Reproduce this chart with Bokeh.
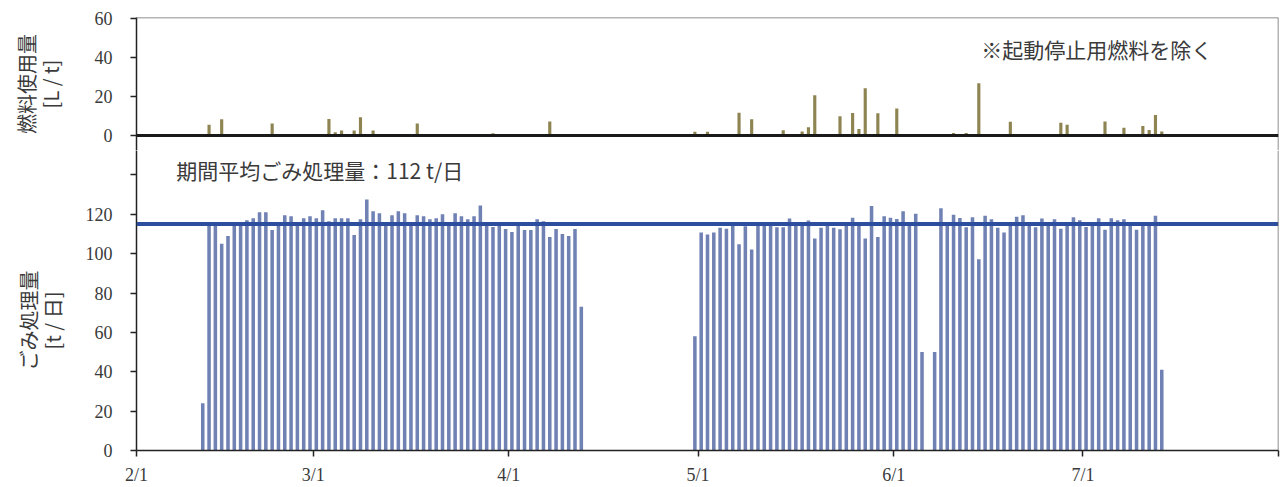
import pandas as pd
from bokeh.plotting import figure
from bokeh.layouts import column
from bokeh.models import ColumnDataSource, FixedTicker, Span, Label, Range1d
from bokeh.embed import file_html
from bokeh.resources import INLINE

# ---------------- data ----------------
YEAR = 2023
axis_start = "2/1"
axis_end = "8/1"
month_ticks = ["2/1", "3/1", "4/1", "5/1", "6/1", "7/1", "8/1"]
month_tick_labels = ["2/1", "3/1", "4/1", "5/1", "6/1", "7/1", ""]

# daily waste processed [t/day], consecutive days from the start date (None = no data)
waste_seg1_start = "2/11"
waste_seg1 = [24, 115, 115, 105, 109, 114, 116, 117, 118, 121, 121, 112, 114, 119.5, 119,
              115.5, 118, 119, 118, 122, 116.5, 118, 118, 118, 109.5, 117.5, 127.5, 121.5,
              120.5, 115, 119.5, 121.5, 120.5, 115, 119.5, 119, 117.5, 118, 120, 114, 120.5,
              119, 117.5, 119, 124.5, 114, 113.5, 115, 112.5, 111, 115, 112, 112, 117.5,
              116.5, 108.5, 112.5, 110, 109, 112.5, 73]
waste_seg2_start = "4/30"
waste_seg2 = [58, 110.7, 109.7, 110.7, 113.2, 112.6, 115, 104.8, 113.9, 102.1, 115, 115, 115,
              113.4, 113.4, 117.8, 115, 115, 116.8, 107.7, 113.1, 115, 113.1, 112.4, 115, 118.3,
              115, 107.7, 124.2, 108.5, 119, 118.3, 117.6, 121.5, 115, 120.3,
              50, None, 50, 123, 115, 119.8, 118.1, 113.4, 118.5, 97.2, 119.3, 117.5, 113.2,
              110.7, 114.1, 118.8, 119.5, 115, 113.4, 117.8, 114.1, 117.5, 112.7, 115, 118.5,
              117, 113.6, 115, 118, 112.2, 118, 117, 117.5, 115, 112.2, 114.1, 115, 119.3, 41]

# fuel use [L/t]
fuel_dates = ["2/12", "2/14", "2/22", "2/25", "3/1", "3/2", "3/3", "3/4", "3/5", "3/7", "3/8",
              "3/10", "3/14", "3/17", "3/29", "3/31", "4/1", "4/5", "4/7", "4/12", "4/30",
              "5/2", "5/7", "5/9", "5/14", "5/17", "5/18", "5/19", "5/23", "5/25", "5/26",
              "5/27", "5/29", "6/1", "6/7", "6/10", "6/12", "6/14", "6/19", "6/27", "6/28",
              "7/4", "7/7", "7/10", "7/11", "7/12", "7/13"]
fuel_values = [5.5, 8.3, 6.1, 0.5, 0.5, 0.7, 8.5, 1.6, 2.6, 2.6, 9.3,
               2.6, 0.3, 6.2, 1.2, 0.8, 0.6, 0.7, 7.2, 0.5, 1.9,
               1.9, 11.7, 8.3, 2.7, 2.0, 4.2, 20.6, 9.8, 11.5, 3.3,
               24.2, 11.4, 13.9, 0.8, 1.3, 1.3, 26.8, 7.0, 6.5, 5.5,
               7.2, 4.0, 4.8, 2.8, 10.5, 2.1]

avg_line_value = 115
avg_text = "期間平均ごみ処理量：112 t/日"
note_text = "※起動停止用燃料を除く"
top_ylabel = "燃料使用量\n[L / t]"
bottom_ylabel = "ごみ処理量\u3000\u3000\n[t / 日]\u3000\u3000"
top_yticks = [0, 20, 40, 60]
bottom_yticks = [0, 20, 40, 60, 80, 100, 120, 140]

# ---------------- helpers ----------------
origin = pd.Timestamp(f"{YEAR}/{axis_start}")


def day(md):
    return (pd.Timestamp(f"{YEAR}/{md}") - origin).days


def segment(start, values):
    xs, ys = [], []
    s = day(start)
    for i, v in enumerate(values):
        if v is not None:
            xs.append(s + i + 0.5)
            ys.append(v)
    return xs, ys


wx1, wy1 = segment(waste_seg1_start, waste_seg1)
wx2, wy2 = segment(waste_seg2_start, waste_seg2)
waste_src = ColumnDataSource(dict(x=wx1 + wx2, y=wy1 + wy2))
fuel_src = ColumnDataSource(dict(x=[day(d) + 0.5 for d in fuel_dates], y=fuel_values))

tick_pos = [day(m) for m in month_ticks]
x_end = day(axis_end)
x_range = Range1d(day(axis_start), x_end)

SERIF = "Liberation Serif"
JP = "Noto Sans CJK JP"
TXT = "#3a3a3a"
AXC = "#222222"
FRAME = "#6a6a6a"


def style_common(p):
    p.xgrid.visible = False
    p.ygrid.visible = False
    p.background_fill_color = "white"
    p.border_fill_color = "white"
    p.outline_line_color = None
    for ax in p.yaxis:
        ax.axis_line_color = AXC
        ax.axis_line_width = 1.5
        ax.major_tick_line_color = AXC
        ax.major_tick_line_width = 1.5
        ax.major_tick_out = 6
        ax.major_tick_in = 0
        ax.minor_tick_line_color = None
        ax.major_label_text_font = SERIF
        ax.major_label_text_font_size = "18px"
        ax.major_label_text_color = TXT
        ax.major_label_standoff = 18
        ax.axis_label_text_font = JP
        ax.axis_label_text_font_size = "20px"
        ax.axis_label_text_font_style = "normal"
        ax.axis_label_text_color = TXT
        ax.axis_label_text_line_height = 0.8
    p.add_layout(Span(location=x_end, dimension="height", line_color=FRAME, line_width=1.5))


# ---------------- top panel: fuel ----------------
top = figure(width=1287, height=150, x_range=x_range, y_range=Range1d(-7.7, 60.5),
             output_backend="svg", toolbar_location=None, x_axis_location=None,
             min_border_left=136, min_border_right=9, min_border_top=17, min_border_bottom=0)
top.vbar(x="x", top="y", bottom=0, width=0.5, source=fuel_src,
         fill_color="#8e8452", line_color=None)
top.yaxis.ticker = FixedTicker(ticks=top_yticks)
top.yaxis.axis_label = top_ylabel
style_common(top)
top.yaxis.axis_label_standoff = 27
top.add_layout(Span(location=0, dimension="width", line_color="#1a1a1a", line_width=3))
top.add_layout(Span(location=60.5, dimension="width", line_color=FRAME, line_width=1.5))
top.add_layout(Label(x=133.9, y=44.5, text=note_text, text_font=JP, text_font_size="21px",
                     text_color=TXT, text_baseline="middle", text_align="left"))

# ---------------- bottom panel: waste ----------------
bot = figure(width=1287, height=337, x_range=x_range, y_range=Range1d(0, 152.4),
             output_backend="svg", toolbar_location=None,
             min_border_left=136, min_border_right=9, min_border_top=0, min_border_bottom=36)
bot.vbar(x="x", top="y", bottom=0, width=0.56, source=waste_src,
         fill_color="#7081b4", line_color=None)
bot.add_layout(Span(location=avg_line_value, dimension="width", line_color="#2d4e9e",
                    line_width=4))
bot.add_layout(Label(x=6.3, y=142.3, text=avg_text, text_font=JP, text_font_size="21px",
                     text_color=TXT, text_baseline="middle", text_align="left"))
bot.yaxis.ticker = FixedTicker(ticks=bottom_yticks)
bot.yaxis.major_label_overrides = {140: ""}
bot.yaxis.axis_label = bottom_ylabel
style_common(bot)
bot.yaxis.axis_label_standoff = 16

xa = bot.xaxis[0]
xa.ticker = FixedTicker(ticks=tick_pos)
xa.major_label_overrides = {t: lab for t, lab in zip(tick_pos, month_tick_labels)}
xa.axis_line_color = AXC
xa.axis_line_width = 1.5
xa.major_tick_line_color = AXC
xa.major_tick_line_width = 1.5
xa.major_tick_out = 6
xa.major_tick_in = 0
xa.minor_tick_line_color = None
xa.major_label_text_font = SERIF
xa.major_label_text_font_size = "18px"
xa.major_label_text_color = TXT
xa.major_label_standoff = 8

layout = column(top, bot, spacing=0)
open("out.html", "w").write(file_html(layout, INLINE))
